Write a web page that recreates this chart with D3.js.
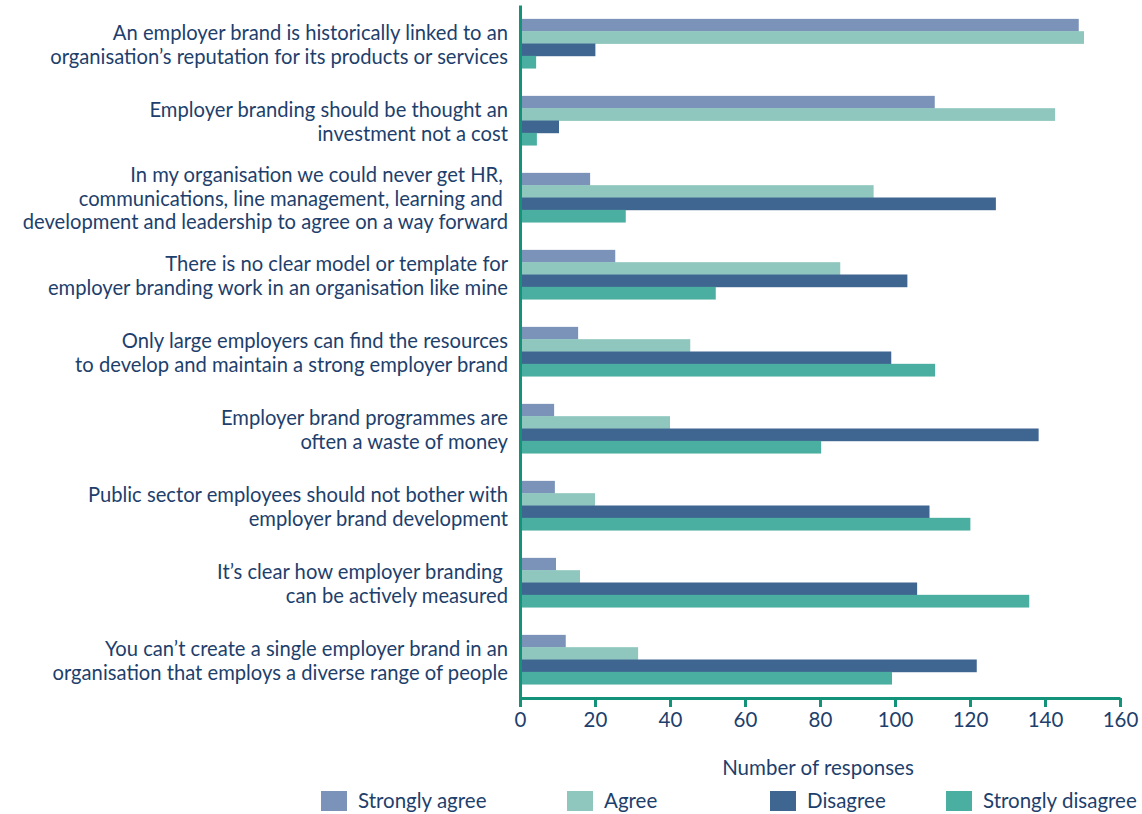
<!DOCTYPE html>
<html>
<head>
<meta charset="utf-8">
<script src="https://cdn.jsdelivr.net/npm/d3@7"></script>
<style>
  html, body { margin: 0; padding: 0; background: #fff; }
  svg { display: block; }
  text { font-family: Lato, "Open Sans", sans-serif; fill: #1e3f6c; }
</style>
</head>
<body>
<svg id="chart" width="1142" height="814"></svg>
<script>
const categories = [
  ["An employer brand is historically linked to an", "organisation\u2019s reputation for its products or services"],
  ["Employer branding should be thought an", "investment not a cost"],
  ["In my organisation we could never get HR, ", "communications, line management, learning and ", "development and leadership to agree on a way forward"],
  ["There is no clear model or template for", "employer branding work in an organisation like mine"],
  ["Only large employers can find the resources", "to develop and maintain a strong employer brand"],
  ["Employer brand programmes are", "often a waste of money"],
  ["Public sector employees should not bother with", "employer brand development"],
  ["It\u2019s clear how employer branding ", "can be actively measured"],
  ["You can\u2019t create a single employer brand in an", "organisation that employs a diverse range of people"]
];
const seriesNames = ["Strongly agree", "Agree", "Disagree", "Strongly disagree"];
const stronglyAgree    = [149, 110.6, 18.7, 25.4, 15.5, 9.1, 9.3, 9.6, 12.2];
const agree            = [150.4, 142.7, 94.3, 85.4, 45.4, 40.0, 20.0, 16.0, 31.5];
const disagree         = [20.1, 10.4, 126.9, 103.3, 99.0, 138.3, 109.2, 105.9, 121.8];
const stronglyDisagree = [4.3, 4.5, 28.2, 52.2, 110.7, 80.3, 120.1, 135.8, 99.2];
const tickValues = [0, 20, 40, 60, 80, 100, 120, 140, 160];
const axisTitle = "Number of responses";

const colors = ["#7b93b8", "#8fc7be", "#3f6591", "#4aaea0"];
const axisColor = "#13937a";
const seriesValues = [stronglyAgree, agree, disagree, stronglyDisagree];

const svg = d3.select("#chart");

const x = d3.scaleLinear().domain([0, 160]).range([520, 1120]);
const y = d3.scaleBand().domain(d3.range(categories.length)).range([5, 698])
  .paddingInner(0.36).paddingOuter(0.18);
const ySub = d3.scaleBand().domain(d3.range(seriesNames.length)).range([0, y.bandwidth()]);

// bars
const groups = svg.append("g").selectAll("g").data(categories).join("g")
  .attr("transform", (d, i) => `translate(0,${y(i)})`);
groups.each(function(d, i) {
  d3.select(this).selectAll("rect").data(seriesValues.map((s, k) => ({k, v: s[i]})))
    .join("rect")
    .attr("x", x(0))
    .attr("y", b => ySub(b.k))
    .attr("width", b => x(b.v) - x(0))
    .attr("height", ySub.bandwidth() + 0.4)
    .attr("fill", b => colors[b.k]);
});

// x axis
const xAxis = svg.append("g").attr("transform", "translate(0,698)")
  .call(d3.axisBottom(x).tickValues(tickValues).tickSize(9).tickSizeOuter(0).tickPadding(5));
xAxis.select(".domain").attr("stroke", axisColor).attr("stroke-width", 3);
xAxis.selectAll(".tick line").attr("stroke", axisColor).attr("stroke-width", 3);
xAxis.selectAll(".tick text").style("font-size", "20.5px").attr("fill", "#1e3f6c")
  .style("font-family", "Lato, 'Open Sans', sans-serif");

// y axis
const yAxis = svg.append("g").attr("transform", "translate(520,0)")
  .call(d3.axisLeft(y).tickSize(0).tickSizeOuter(0).tickFormat(""));
yAxis.select(".domain").attr("stroke", axisColor).attr("stroke-width", 3);
yAxis.selectAll(".tick text").remove();

// category labels
const lineH = 23.5;
const fs = 20.2;
svg.append("g").selectAll("text").data(categories).join("text")
  .attr("text-anchor", "end")
  .style("font-size", fs + "px")
  .style("white-space", "pre")
  .attr("xml:space", "preserve")
  .each(function(lines, i) {
    const c = y(i) + y.bandwidth() / 2 + 1;
    const n = lines.length;
    d3.select(this).selectAll("tspan").data(lines).join("tspan")
      .attr("x", 508)
      .attr("y", (l, j) => c + (j - (n - 1) / 2) * lineH + fs * 0.36)
      .text(l => l);
  });

// axis title
svg.append("text").attr("x", 818).attr("y", 775).attr("text-anchor", "middle")
  .style("font-size", "20.5px").text(axisTitle);

// legend
const legendX = [321, 567, 770, 946];
const legend = svg.append("g").selectAll("g").data(seriesNames).join("g")
  .attr("transform", (d, i) => `translate(${legendX[i]},791)`);
legend.append("rect").attr("width", 26).attr("height", 20).attr("fill", (d, i) => colors[i]);
legend.append("text").attr("x", 37).attr("y", 17).style("font-size", "20.5px").text(d => d);
</script>
</body>
</html>
